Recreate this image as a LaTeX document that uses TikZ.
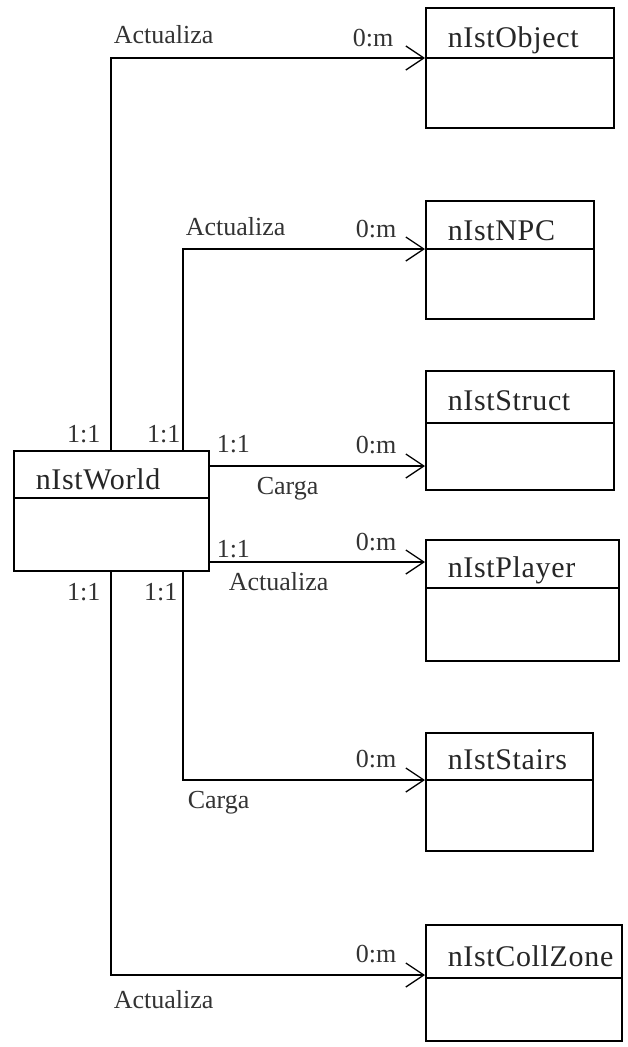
\documentclass[tikz,border=0pt]{standalone}
\usepackage{fontspec}
\setmainfont{Liberation Serif}
\newfontfamily\clsfont[LetterSpace=2.2]{Liberation Serif}
\usetikzlibrary{arrows.meta}
\begin{document}
\begin{tikzpicture}[x=1pt,y=-1pt,
  line width=1.5pt,
  cls/.style={draw, rectangle, inner sep=0pt, anchor=north west},
  cname/.style={inner sep=0pt, anchor=base west, font=\clsfont\fontsize{30}{34}\selectfont, text=black!85},
  lbl/.style={inner sep=0pt, anchor=base west, font=\fontsize{26}{30}\selectfont, text=black!80},
  lblr/.style={lbl, anchor=base east},
  conn/.style={draw, -{Straight Barb[length=18pt,width=24pt,line width=1.3pt]}}]
\useasboundingbox (0,0) rectangle (627,1047);
% classes
\node[cls, minimum width=195pt, minimum height=120pt] (world) at (13,450) {};
\node[cls, minimum width=188pt, minimum height=120pt] (obj) at (425,7) {};
\node[cls, minimum width=168pt, minimum height=118pt] (npc) at (425,200) {};
\node[cls, minimum width=188pt, minimum height=119pt] (struct) at (425,370) {};
\node[cls, minimum width=193pt, minimum height=121pt] (player) at (425,539) {};
\node[cls, minimum width=167pt, minimum height=118pt] (stairs) at (425,732) {};
\node[cls, minimum width=196pt, minimum height=116pt] (coll) at (425,924) {};
% dividers
\draw ([yshift=-48pt]world.north west) -- ([yshift=-48pt]world.north east);
\draw ([yshift=-51pt]obj.north west) -- ([yshift=-51pt]obj.north east);
\draw ([yshift=-49pt]npc.north west) -- ([yshift=-49pt]npc.north east);
\draw ([yshift=-53pt]struct.north west) -- ([yshift=-53pt]struct.north east);
\draw ([yshift=-49pt]player.north west) -- ([yshift=-49pt]player.north east);
\draw ([yshift=-48pt]stairs.north west) -- ([yshift=-48pt]stairs.north east);
\draw ([yshift=-54pt]coll.north west) -- ([yshift=-54pt]coll.north east);
% names
\node[cname] (worldn) at (35,489) {nIstWorld};
\node[cname] (objn) at (447,47) {nIstObject};
\node[cname] (npcn) at (447,240) {nIstNPC};
\node[cname] (structn) at (447,410) {nIstStruct};
\node[cname] (playern) at (447,577) {nIstPlayer};
\node[cname] (stairsn) at (447,769) {nIstStairs};
\node[cname] (colln) at (447,966) {nIstCollZone};
% connectors
\draw[conn] ([xshift=98pt]world.north west) |- ([yshift=-51pt]obj.north west);
\draw[conn] ([xshift=170pt]world.north west) |- ([yshift=-49pt]npc.north west);
\draw[conn] ([yshift=-16pt]world.north east) -- ([yshift=-96pt]struct.north west);
\draw[conn] ([yshift=-112pt]world.north east) -- ([yshift=-23pt]player.north west);
\draw[conn] ([xshift=170pt]world.south west) |- ([yshift=-48pt]stairs.north west);
\draw[conn] ([xshift=98pt]world.south west) |- ([yshift=-51pt]coll.north west);
% labels
\node[lbl] (l1) at (113,43) {Actualiza};
\node[lblr] (m1) at (394,46) {0:m};
\node[lbl] (l2) at (185,235) {Actualiza};
\node[lblr] (m2) at (397,237) {0:m};
\node[lbl] (o1) at (216,452) {1:1};
\node[lblr] (m3) at (397,453) {0:m};
\node[lbl] (l3) at (256,494) {Carga};
\node[lbl] (o2) at (216,557) {1:1};
\node[lblr] (m4) at (397,550) {0:m};
\node[lbl] (l4) at (228,590) {Actualiza};
\node[lblr] (o3) at (101,442) {1:1};
\node[lblr] (o4) at (181,442) {1:1};
\node[lblr] (o5) at (101,600) {1:1};
\node[lblr] (o6) at (178,600) {1:1};
\node[lblr] (m5) at (397,767) {0:m};
\node[lbl] (l5) at (187,808) {Carga};
\node[lblr] (m6) at (397,962) {0:m};
\node[lbl] (l6) at (113,1008) {Actualiza};
\end{tikzpicture}
\end{document}
